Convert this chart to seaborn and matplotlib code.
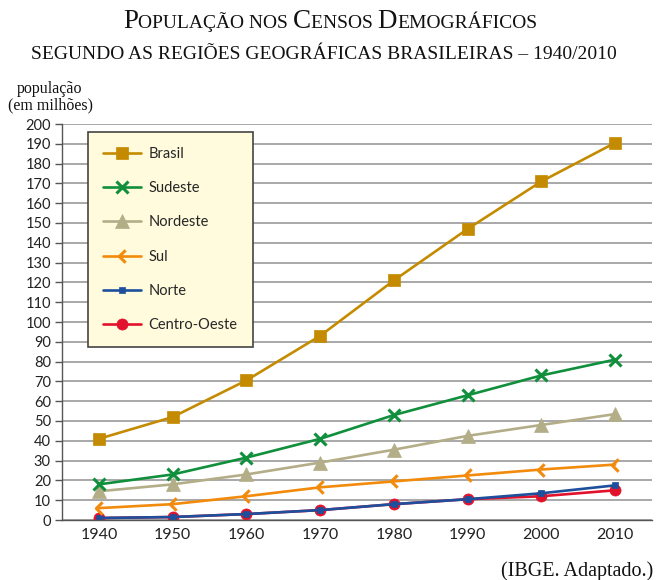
import pandas as pd
import matplotlib.pyplot as plt
import seaborn as sns
from matplotlib.path import Path

# Dados (milhões de habitantes)
anos = ["1940", "1950", "1960", "1970", "1980", "1990", "2000", "2010"]
brasil = [41, 52, 70.5, 93, 121, 147, 171, 190.5]
sudeste = [18, 23, 31.5, 41, 53, 63, 73, 81]
nordeste = [14.5, 18, 23, 29, 35.5, 42.5, 48, 53.5]
sul = [6, 8, 12, 16.5, 19.5, 22.5, 25.5, 28]
norte = [1, 1.5, 3, 5, 8, 10.5, 13.5, 17.5]
centro_oeste = [1, 1.5, 3, 5, 8, 10.5, 12, 15]

chevron = Path([(0.5, 1), (-0.5, 0), (0.5, -1)], [Path.MOVETO, Path.LINETO, Path.LINETO])

# nome, valores, cor, marcador, tamanho
series = [
    ("Centro-Oeste", centro_oeste, "#E2122D", "o", 8),
    ("Norte", norte, "#1D4F9C", "s", 4.5),
    ("Sul", sul, "#F28A0C", chevron, 9),
    ("Nordeste", nordeste, "#B3AD88", "^", 10.5),
    ("Sudeste", sudeste, "#108F3C", "x", 9),
    ("Brasil", brasil, "#C58B00", "s", 8.5),
]

sns.set_theme(style="white")
plt.rcParams['font.family'] = ['Lato', 'DejaVu Sans']

fig = plt.figure(figsize=(6.6, 5.8), dpi=100)
ax = fig.add_axes([62 / 660, 1 - 520 / 580, 590 / 660, 396 / 580])

for nome, vals, cor, mk, ms in series:
    df = pd.DataFrame({"ano": anos, "pop": vals})
    kw = dict(marker=mk, markersize=ms, markeredgecolor=cor,
              markeredgewidth=2.2 if (mk == "x" or mk is chevron) else 0.5)
    if mk is chevron:
        kw["markerfacecolor"] = "none"
    sns.lineplot(data=df, x="ano", y="pop", color=cor, linewidth=1.9, label=nome, ax=ax, **kw)

ax.set_xlim(-0.5, 7.5)
ax.set_ylim(0, 200)
ax.set_yticks(range(0, 201, 10))
ax.set_xlabel("")
ax.set_ylabel("")
ax.grid(axis="y", color="#9a9a9a", linewidth=1.2)
ax.set_axisbelow(True)
for s in ["top", "right"]:
    ax.spines[s].set_visible(False)
for s in ["left", "bottom"]:
    ax.spines[s].set_color("#555555")
    ax.spines[s].set_linewidth(1.0)
ax.set_xticks([x + 0.5 for x in range(-1, 8)], minor=True)
ax.tick_params(axis="x", which="major", length=0, labelsize=11.5, colors="#222222", pad=6)
ax.tick_params(axis="x", which="minor", length=6, width=1, color="#555555", direction="out")
ax.tick_params(axis="y", length=5, width=1, color="#555555", direction="out", left=True,
               labelsize=10.5, colors="#222222", pad=3)

handles, labels = ax.get_legend_handles_labels()
leg = ax.legend(handles[::-1], labels[::-1], loc="upper left", bbox_to_anchor=(0.044, 0.98),
                borderaxespad=0, fontsize=10.5, labelspacing=1.38, handlelength=2.6,
                borderpad=1.05, handletextpad=0.5, fancybox=False, framealpha=1)
leg.get_frame().set_facecolor("#FFFBDC")
leg.get_frame().set_edgecolor("#444444")
leg.get_frame().set_linewidth(1.2)

serif = ['Liberation Serif', 'DejaVu Serif']

# titulo em versalete
partes = [("P", 19.5), ("OPULAÇÃO NOS ", 14), ("C", 19.5), ("ENSOS ", 14), ("D", 19.5), ("EMOGRÁFICOS", 14)]
renderer = fig.canvas.get_renderer()
textos = [fig.text(0, 1 - 28 / 580, t, fontsize=s, family=serif, color="#111111") for t, s in partes]
larguras = [t.get_window_extent(renderer).width for t in textos]
x = (660 - sum(larguras)) / 2
for t, w in zip(textos, larguras):
    t.set_x(x / 660)
    x += w

fig.text(324 / 660, 1 - 59 / 580, "SEGUNDO AS REGIÕES GEOGRÁFICAS BRASILEIRAS – 1940/2010",
         ha="center", fontsize=14, family=serif, color="#111111")
fig.text(50 / 660, 1 - 93 / 580, "população", ha="center", fontsize=11.5, family=serif, color="#111111")
fig.text(50 / 660, 1 - 109 / 580, "(em milhões)", ha="center", fontsize=11.5, family=serif, color="#111111")
fig.text(653 / 660, 1 - 576 / 580, "(IBGE. Adaptado.)", ha="right", fontsize=14.5, family=serif, color="#111111")

fig.savefig("out.png", dpi=100)
